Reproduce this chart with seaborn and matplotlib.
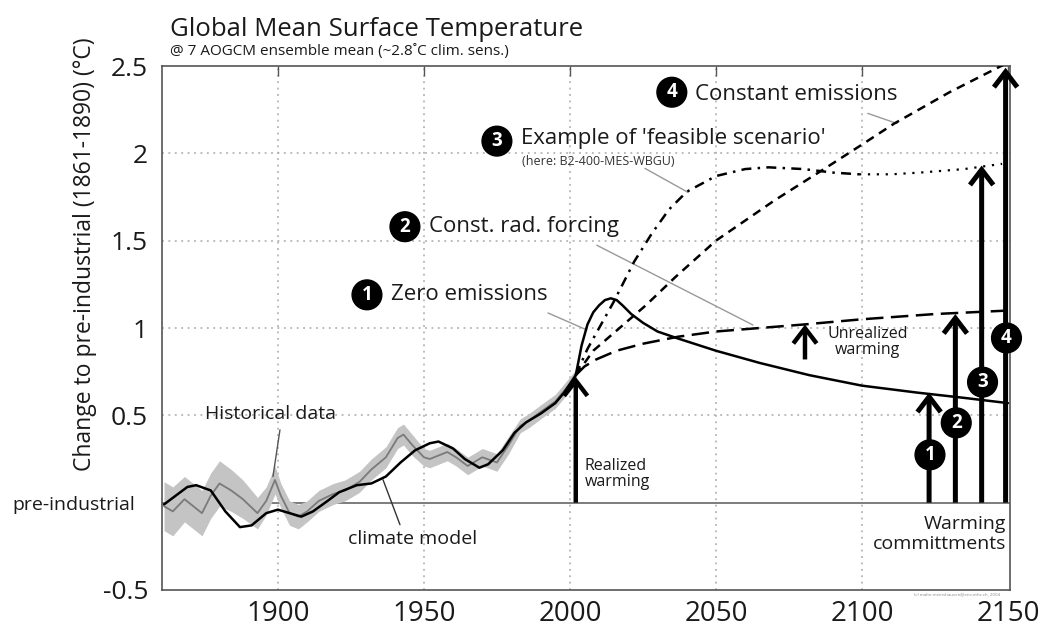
import numpy as np
import pandas as pd
import matplotlib
matplotlib.use("Agg")
import matplotlib.pyplot as plt
import matplotlib.transforms as mtransforms
import seaborn as sns

# ---------------- data ----------------
hist_years = [1861, 1864, 1868, 1871, 1874, 1877, 1880, 1884, 1888, 1893, 1896, 1899,
              1901, 1904, 1907, 1910, 1914, 1919, 1923, 1928, 1932, 1937, 1941, 1943,
              1946, 1950, 1952, 1958, 1961, 1965, 1970, 1975, 1979, 1983, 1986, 1990,
              1995, 1999, 2002]
hist_values = [-0.02, -0.05, 0.02, -0.02, -0.06, 0.04, 0.11, 0.07, 0.02, -0.06, 0.01, 0.13,
               0.04, -0.06, -0.08, -0.05, 0.01, 0.05, 0.07, 0.12, 0.19, 0.26, 0.37, 0.39,
               0.33, 0.26, 0.25, 0.29, 0.26, 0.21, 0.26, 0.23, 0.33, 0.44, 0.47, 0.52,
               0.58, 0.66, 0.72]
hist_halfwidth = [0.14, 0.14, 0.13, 0.13, 0.13, 0.13, 0.13, 0.12, 0.11, 0.09, 0.08, 0.08,
                  0.07, 0.07, 0.07, 0.06, 0.06, 0.06, 0.06, 0.06, 0.06, 0.06, 0.06, 0.06,
                  0.06, 0.05, 0.05, 0.05, 0.05, 0.05, 0.05, 0.05, 0.05, 0.04, 0.04, 0.04,
                  0.04, 0.04, 0.04]

model_years = [1861, 1865, 1869, 1872, 1877, 1882, 1887, 1891, 1896, 1900, 1904, 1908,
               1912, 1917, 1921, 1927, 1932, 1937, 1942, 1947, 1952, 1955, 1960, 1964,
               1969, 1972, 1977, 1981, 1985, 1990, 1995, 1998, 2002]
model_values = [-0.01, 0.04, 0.09, 0.10, 0.07, -0.05, -0.14, -0.13, -0.06, -0.04, -0.06, -0.08,
                -0.05, 0.01, 0.06, 0.10, 0.11, 0.15, 0.23, 0.30, 0.34, 0.35, 0.31, 0.25,
                0.20, 0.22, 0.30, 0.40, 0.46, 0.51, 0.57, 0.63, 0.73]

zero_years = [2002, 2004, 2006, 2008, 2010, 2012, 2014, 2016, 2018, 2021, 2025, 2030, 2037,
              2050, 2065, 2082, 2100, 2119, 2135, 2150]
zero_values = [0.73, 0.90, 1.02, 1.09, 1.13, 1.16, 1.17, 1.16, 1.13, 1.08, 1.03, 0.98, 0.94,
               0.87, 0.80, 0.73, 0.67, 0.63, 0.60, 0.57]

crf_years = [2002, 2005, 2009, 2016, 2025, 2037, 2050, 2065, 2080, 2100, 2125, 2150]
crf_values = [0.73, 0.78, 0.82, 0.87, 0.91, 0.95, 0.98, 1.00, 1.02, 1.05, 1.08, 1.10]

const_years = [2002, 2008, 2017, 2026, 2036, 2050, 2070, 2087, 2100, 2111, 2130, 2150]
const_values = [0.73, 0.87, 1.00, 1.13, 1.29, 1.50, 1.73, 1.91, 2.05, 2.17, 2.35, 2.52]

feas_years = [2002, 2006, 2010, 2015, 2022, 2028, 2034, 2040, 2050, 2060, 2068, 2080,
              2090, 2099, 2110, 2120, 2135, 2148]
feas_values = [0.73, 0.88, 1.00, 1.15, 1.38, 1.54, 1.68, 1.78, 1.87, 1.91, 1.92, 1.91,
               1.89, 1.88, 1.88, 1.89, 1.91, 1.94]
feas_dotted_from = 2099

realized_year = 2002
realized_value = 0.72
unrealized_year = 2080.5
unrealized_from = 0.82
unrealized_to = 1.02

commit_years = [2123, 2132, 2141, 2149.2]
commit_values = [0.63, 1.08, 1.93, 2.49]
commit_labels = ["1", "2", "3", "4"]
commit_label_values = [0.274, 0.457, 0.69, 0.943]

x_ticks = [1900, 1950, 2000, 2050, 2100, 2150]
y_ticks = [-0.5, 0, 0.5, 1, 1.5, 2, 2.5]
y_tick_labels = ["-0.5", "pre-industrial", "0.5", "1", "1.5", "2", "2.5"]

# ---------------- style ----------------
sns.set_style("white")
plt.rcParams["font.family"] = ["Open Sans", "DejaVu Sans"]
plt.rcParams["text.color"] = "#1a1a1a"

fig = plt.figure(figsize=(10.41, 6.30), dpi=100)
ax = fig.add_axes([0.1556, 0.0635, 0.8146, 0.8317])
ax.set_xlim(1860.3, 2150.7)
ax.set_ylim(-0.5, 2.5)

# grid
for xv in x_ticks[:-1]:
    ax.axvline(xv, color="#a8a8a8", lw=1.1, ls=(0, (1.2, 3)), zorder=0)
for yv in [0.5, 1, 1.5, 2]:
    ax.axhline(yv, color="#a8a8a8", lw=1.1, ls=(0, (1.2, 3)), zorder=0)
ax.axhline(0, color="#666666", lw=1.2, zorder=1)

# historical data band + line
hy = np.array(hist_years, float)
hv = np.array(hist_values)
hw = np.array(hist_halfwidth)
ax.fill_between(hy, hv - hw, hv + hw, color="#c4c4c4", lw=0, zorder=2)
sns.lineplot(x=hist_years, y=hist_values, ax=ax, color="#7a7a7a", lw=1.3,
             estimator=None, zorder=3)

# climate model
sns.lineplot(x=model_years, y=model_values, ax=ax, color="black", lw=1.8,
             estimator=None, zorder=4)

# scenarios
sns.lineplot(x=zero_years, y=zero_values, ax=ax, color="black", lw=1.8,
             estimator=None, zorder=4)
sns.lineplot(x=crf_years, y=crf_values, ax=ax, color="black", lw=1.8,
             linestyle=(0, (7, 3)), estimator=None, zorder=4)
sns.lineplot(x=const_years, y=const_values, ax=ax, color="black", lw=1.8,
             linestyle=(0, (3.5, 2.5)), estimator=None, zorder=4)
fy = np.array(feas_years, float)
fv = np.array(feas_values)
m1 = fy <= feas_dotted_from
m2 = fy >= feas_dotted_from
sns.lineplot(x=fy[m1], y=fv[m1], ax=ax, color="black", lw=1.8,
             linestyle=(0, (4, 2.5, 1, 2.5)), estimator=None, zorder=4)
sns.lineplot(x=fy[m2], y=fv[m2], ax=ax, color="black", lw=1.6,
             linestyle=(0, (1, 3)), estimator=None, zorder=4)

# arrows
def up_arrow(x, y0, y1, lw=3.2):
    ax.annotate("", xy=(x, y1), xytext=(x, y0),
                arrowprops=dict(arrowstyle="->,head_length=0.55,head_width=0.42",
                                lw=lw, color="black", shrinkA=0, shrinkB=0,
                                mutation_scale=20, joinstyle="miter",
                                capstyle="butt"),
                annotation_clip=False, zorder=6)

up_arrow(realized_year, 0, realized_value)
up_arrow(unrealized_year, unrealized_from, unrealized_to)
for cx, cv in zip(commit_years, commit_values):
    up_arrow(cx, 0, cv, lw=3.6)

# circled numbers
def circ(x, y, s, fs=13.5):
    ax.text(x, y, s, color="white", fontsize=fs, fontweight="bold",
            ha="center", va="center", zorder=8,
            bbox=dict(boxstyle="circle,pad=0.26", fc="black", ec="black"))

for cx, cy, cl in zip(commit_years, commit_label_values, commit_labels):
    circ(cx + 0.3, cy, cl)

# scenario labels
circ(1930.5, 1.19, "1")
ax.text(1938.6, 1.19, "Zero emissions", fontsize=16, va="center", ha="left")
circ(1943.5, 1.58, "2")
ax.text(1951.6, 1.58, "Const. rad. forcing", fontsize=16, va="center", ha="left")
circ(1975.0, 2.07, "3")
ax.text(1983.1, 2.085, "Example of 'feasible scenario'", fontsize=16, va="center", ha="left")
ax.text(1983.6, 1.955, "(here: B2-400-MES-WBGU)", fontsize=9, va="center", ha="left",
        color="#333333")
circ(2034.9, 2.35, "4")
ax.text(2043.0, 2.335, "Constant emissions", fontsize=16, va="center", ha="left")

ax.text(1875, 0.51, "Historical data", fontsize=14, va="center", ha="left")
ax.text(1924, -0.21, "climate model", fontsize=14, va="center", ha="left")
ax.text(2005.1, 0.166, "Realized\nwarming", fontsize=11.5, va="center", ha="left",
        linespacing=1.0)
ax.text(2102.0, 0.92, "Unrealized\nwarming", fontsize=11.5, va="center", ha="center",
        linespacing=1.0)
ax.text(2149.5, -0.177, "Warming\ncommittments", fontsize=14, va="center", ha="right",
        linespacing=1.15)

# leader lines
leaders = [((1900.7, 0.417), (1898.3, 0.149), "#555555"),
           ((1941.8, -0.126), (1936.0, 0.131), "#333333"),
           ((1992.5, 1.086), (2005.8, 0.989), "#999999"),
           ((2009.2, 1.474), (2062.7, 1.017), "#999999"),
           ((2025.7, 1.914), (2040.4, 1.777), "#999999"),
           ((2102.0, 2.229), (2112.0, 2.171), "#999999")]
for (x0, y0), (x1, y1), c in leaders:
    ax.plot([x0, x1], [y0, y1], color=c, lw=1.0, zorder=3)

# copyright
ax.text(0.988, -0.003, "(c) malte.meinshausen@env.ethz.ch, 2004", transform=ax.transAxes,
        fontsize=3.2, color="#888888", ha="right", va="top")

# axes styling
ax.set_xticks(x_ticks)
ax.set_xticklabels([str(t) for t in x_ticks])
ax.set_yticks(y_ticks)
ax.set_yticklabels(y_tick_labels)
ax.tick_params(axis="x", direction="in", length=7, width=1, color="#555555",
               labelsize=20, pad=7, top=True, labelcolor="#1a1a1a")
ax.tick_params(axis="y", direction="in", length=7, width=1, color="#555555",
               labelsize=19, pad=10, labelcolor="#1a1a1a")
for lbl in ax.get_yticklabels():
    if lbl.get_text() == "pre-industrial":
        lbl.set_fontsize(14)
        lbl.set_transform(lbl.get_transform() +
                          mtransforms.ScaledTranslation(-0.13, 0, fig.dpi_scale_trans))
for sp in ax.spines.values():
    sp.set_color("#555555")
    sp.set_linewidth(1.2)
    sp.set_visible(True)

ax.set_xlabel("")
ax.set_ylabel("Change to pre-industrial (1861-1890) (°C)", fontsize=16.5, color="#1a1a1a")
ax.yaxis.set_label_coords(-0.077, 0.64)

fig.text(170 / 1041, 1 - 36 / 630, "Global Mean Surface Temperature", fontsize=18.5,
         ha="left", va="baseline", color="#1a1a1a")
fig.text(170 / 1041, 1 - 55 / 630, "@ 7 AOGCM ensemble mean (~2.8\u02daC clim. sens.)",
         fontsize=11, ha="left", va="baseline", color="#1a1a1a")

fig.savefig("out.png", dpi=100, facecolor="white")
